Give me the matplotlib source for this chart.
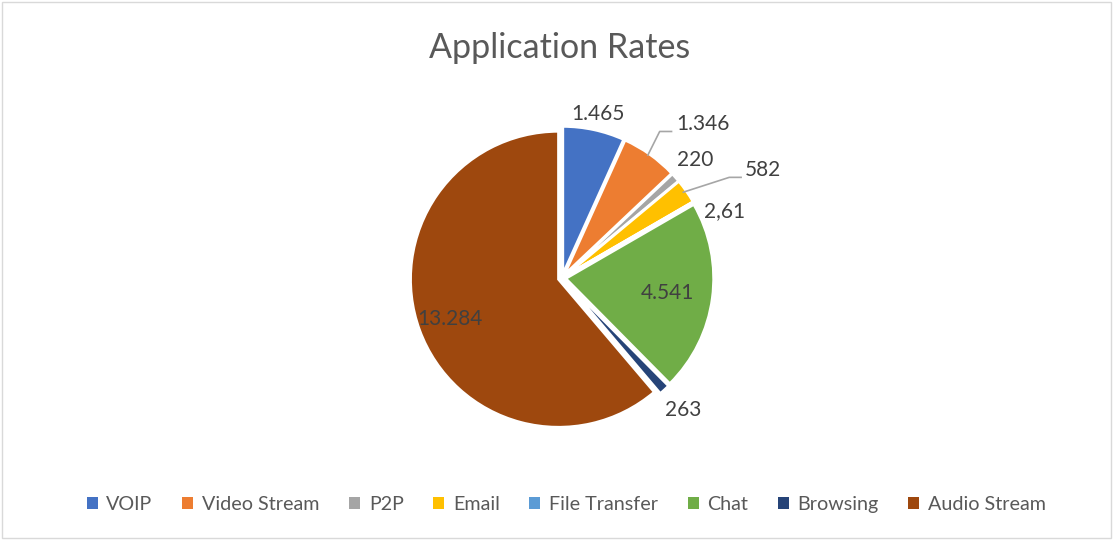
import matplotlib
matplotlib.use("Agg")
import matplotlib.pyplot as plt
from matplotlib.patches import Rectangle, Patch

plt.rcParams["font.family"] = ["Lato", "DejaVu Sans"]

categories = ["VOIP", "Video Stream", "P2P", "Email", "File Transfer",
              "Chat", "Browsing", "Audio Stream"]
values = [1465, 1346, 220, 582, 2.61, 4541, 263, 13284]
value_labels = ["1.465", "1.346", "220", "582", "2,61", "4.541", "263", "13.284"]
colors = ["#4472C4", "#ED7D31", "#A5A5A5", "#FFC000", "#5B9BD5",
          "#70AD47", "#264478", "#9E480E"]

# label placement (in pie radius units) and optional leader lines
label_pos = [(0.24, 1.11), (0.95, 1.04), (0.90, 0.80), (1.36, 0.73),
             (1.10, 0.45), (0.71, -0.10), (0.82, -0.89), (-0.76, -0.28)]
leaders = {1: [(0.58, 0.83), (0.66, 0.99), (0.74, 0.99)],
           3: [(0.82, 0.58), (1.13, 0.68), (1.21, 0.68)]}

fig = plt.figure(figsize=(11.15, 5.4), dpi=100)
fig.patches.append(Rectangle((0.002, 0.004), 0.994, 0.992, transform=fig.transFigure,
                             fill=False, edgecolor="#D9D9D9", linewidth=1.0))

r_px = 148
cx, cy = 562, 540 - 278
ax = fig.add_axes([(cx - 2 * r_px) / 1115, (cy - 2 * r_px) / 540,
                   4 * r_px / 1115, 4 * r_px / 540])

wedges, _ = ax.pie(values, colors=colors, startangle=90, counterclock=False,
                   explode=[0.025] * len(values),
                   wedgeprops=dict(edgecolor="white", linewidth=2.0))
ax.set_xlim(-2, 2)
ax.set_ylim(-2, 2)
ax.axis("off")

for i, (lx, ly) in enumerate(label_pos):
    ax.text(lx, ly, value_labels[i], ha="center", va="center",
            fontsize=15, color="#404040")
for i, pts in leaders.items():
    ax.plot([p[0] for p in pts], [p[1] for p in pts], color="#A6A6A6", lw=1.2)

fig.text(0.502, 0.911, "Application Rates", ha="center", va="center",
         fontsize=24.5, color="#595959")

handles = [Patch(facecolor=c, edgecolor="none") for c in colors]
fig.legend(handles, categories, loc="center", bbox_to_anchor=(0.508, 0.065),
           ncol=len(categories), frameon=False, fontsize=14.2,
           handlelength=0.55, handleheight=0.55, handletextpad=0.45,
           columnspacing=1.5, labelcolor="#595959")

fig.savefig("out.png", dpi=100)
